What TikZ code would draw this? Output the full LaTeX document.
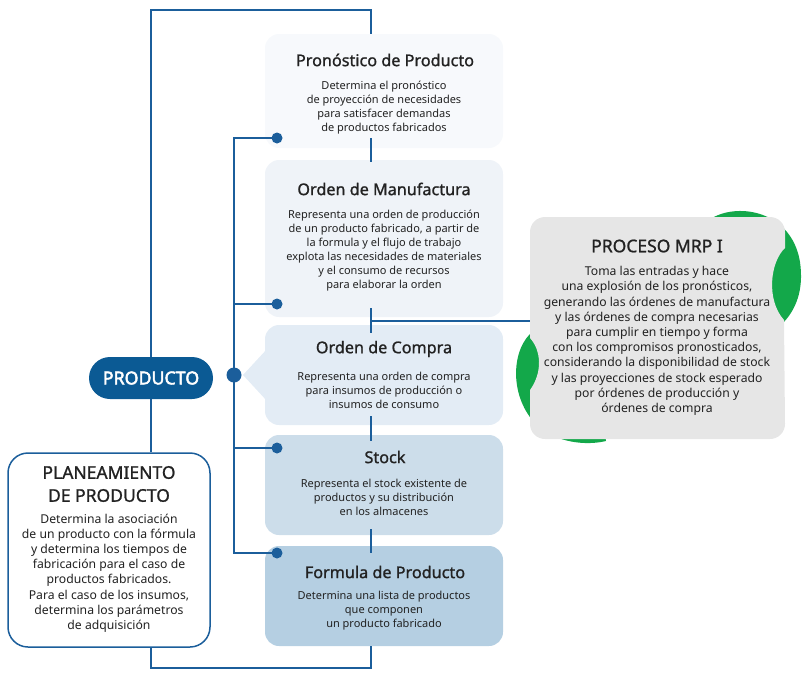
\documentclass[tikz,border=0pt]{standalone}
\usepackage{fontspec}
\setmainfont{Noto Sans}
\newfontfamily\titlef{Noto Sans}[FakeBold=1.1]
\newfontfamily\heavyf{Noto Sans}[FakeBold=2.6]
\definecolor{lc}{HTML}{1B5E9B}
\definecolor{txt}{HTML}{222222}
\definecolor{cA}{HTML}{F7F9FC}
\definecolor{cB}{HTML}{EFF3F8}
\definecolor{cC}{HTML}{E3ECF5}
\definecolor{cD}{HTML}{CCDDEA}
\definecolor{cE}{HTML}{B5CFE2}
\definecolor{pill}{HTML}{0B5A94}
\definecolor{grayb}{HTML}{E6E6E6}
\definecolor{grn}{HTML}{13A84A}
\tikzset{
  ln/.style={draw=lc, line width=1.8pt},
  cardbox/.style={rectangle, rounded corners=14, minimum width=238, minimum height=100, inner sep=0},
  body/.style={align=center, text=txt, font=\fontsize{11}{14}\selectfont, inner sep=0},
  bodyb/.style={align=center, text=txt, font=\fontsize{12.2}{15.2}\selectfont, inner sep=0},
  ttl/.style={text=txt, font=\titlef\fontsize{16.2}{18}\selectfont, inner sep=0},
  bigttl/.style={align=center, text=txt, font=\titlef\fontsize{17.5}{23}\selectfont, inner sep=0},
}
\begin{document}
\begin{tikzpicture}[x=1pt,y=-1pt]
\useasboundingbox (0,0) rectangle (806,678);
% boxes
\node[cardbox, fill=cA, minimum height=114] (pron) at (384,91) {};
\node[cardbox, fill=cB, minimum height=157] (manu) at (384,238.5) {};
\fill[cC] (267,349) -- (243,375) -- (267,401) -- cycle;
\node[cardbox, fill=cC] (comp) at (384,375) {};
\node[cardbox, fill=cD] (stock) at (384,485) {};
\node[cardbox, fill=cE] (form) at (384,596) {};
\node[rectangle, rounded corners=21, fill=pill, minimum width=124, minimum height=42, inner sep=0,
      text=white, font=\heavyf\fontsize{17.8}{18}\selectfont] (prod) at (151,378) {PRODUCTO};
\node[rectangle, rounded corners=20, draw=lc, line width=1.5pt, fill=white, minimum width=202, minimum height=194, inner sep=0] (plan) at (109,550) {};
% coordinates
\coordinate (tl) at (151,10);
\coordinate (tr) at (371,10);
\coordinate (bl) at (151,668);
\coordinate (br) at (371,668);
\coordinate (d1) at (277,138);
\coordinate (d2) at (277,304);
\coordinate (d3) at (277,448);
\coordinate (d4) at (277,553);
\coordinate (big) at (234,375);
\coordinate (m1) at (371,321);
\coordinate (m2) at (540,321);
% connectors
\draw[ln] (pron.north -| tr) -- (tr) -- (tl) -- (prod.north -| tl);
\draw[ln] (prod.south) -- (prod.south |- plan.north);
\draw[ln] (plan.south -| bl) -- (bl) -- (br) -- (br |- form.south);
\draw[ln] (371,138) -- (371,162);
\draw[ln] (371,308) -- (371,333);
\draw[ln] (371,416) -- (371,441);
\draw[ln] (371,529) -- (371,553);
\draw[ln] (m1) -- (m2);
\draw[ln] (d1) -- (d1 -| big) -- (d4 -| big) -- (d4);
\draw[ln] (d2 -| big) -- (d2);
\draw[ln] (d3 -| big) -- (d3);
\fill[lc] (d1) circle (5.5) (d2) circle (5.5) (d3) circle (5.5) (d4) circle (5.5);
\fill[lc] (big) circle (7.5);
% MRP shape
\fill[grn] (712,218) .. controls (740,202) and (792,212) .. (800,262)
  .. controls (804,290) and (796,310) .. (782,324) -- (760,300) -- (740,240) -- cycle;
\fill[grn] (530,334) .. controls (510,354) and (510,402) .. (540,428)
  .. controls (558,442) and (585,446) .. (606,441) -- (600,400) -- (550,360) -- cycle;
\fill[grayb] (545,217) -- (770,217) arc[start angle=-90, end angle=0, radius=15] -- (785,248)
  .. controls (770,262) and (766,300) .. (784,320) -- (785,424) arc[start angle=0, end angle=90, radius=15]
  -- (545,439) arc[start angle=90, end angle=180, radius=15] -- (530,390)
  .. controls (543,372) and (541,350) .. (530,338) -- (530,232) arc[start angle=180, end angle=270, radius=15] -- cycle;
% texts
\node[ttl] (t1) at (385,60) {Pronóstico de Producto};
\node[body] (b1) at (384,108) {Determina el pronóstico\\de proyección de necesidades\\para satisfacer demandas\\de productos fabricados};
\node[ttl] (t2) at (384,189) {Orden de Manufactura};
\node[body] (b2) at (384,251) {Representa una orden de producción\\de un producto fabricado, a partir de\\la formula y el flujo de trabajo\\explota las necesidades de materiales\\y el consumo de recursos\\para elaborar la orden};
\node[ttl] (t3) at (384,349) {Orden de Compra};
\node[body] (b3) at (384,390) {Representa una orden de compra\\para insumos de producción o\\insumos de consumo};
\node[ttl] (t4) at (385,457) {Stock};
\node[body] (b4) at (384,497) {Representa el stock existente de\\productos y su distribución\\en los almacenes};
\node[ttl] (t5) at (385,572) {Formula de Producto};
\node[body] (b5) at (384,611) {Determina una lista de productos\\que componen\\un producto fabricado};
\node[bigttl] (t6) at (657,246) {PROCESO MRP I};
\node[bodyb] (b6) at (657,341) {Toma las entradas y hace\\una explosión de los pronósticos,\\generando las órdenes de manufactura\\y las órdenes de compra necesarias\\para cumplir en tiempo y forma\\con los compromisos pronosticados,\\considerando la disponibilidad de stock\\y las proyecciones de stock esperado\\por órdenes de producción y\\órdenes de compra};
\node[bigttl] (t7) at (109,484) {PLANEAMIENTO\\DE PRODUCTO};
\node[bodyb] (b7) at (109,573) {Determina la asociación\\de un producto con la fórmula\\y determina los tiempos de\\fabricación para el caso de\\productos fabricados.\\Para el caso de los insumos,\\determina los parámetros\\de adquisición};
\end{tikzpicture}
\end{document}
